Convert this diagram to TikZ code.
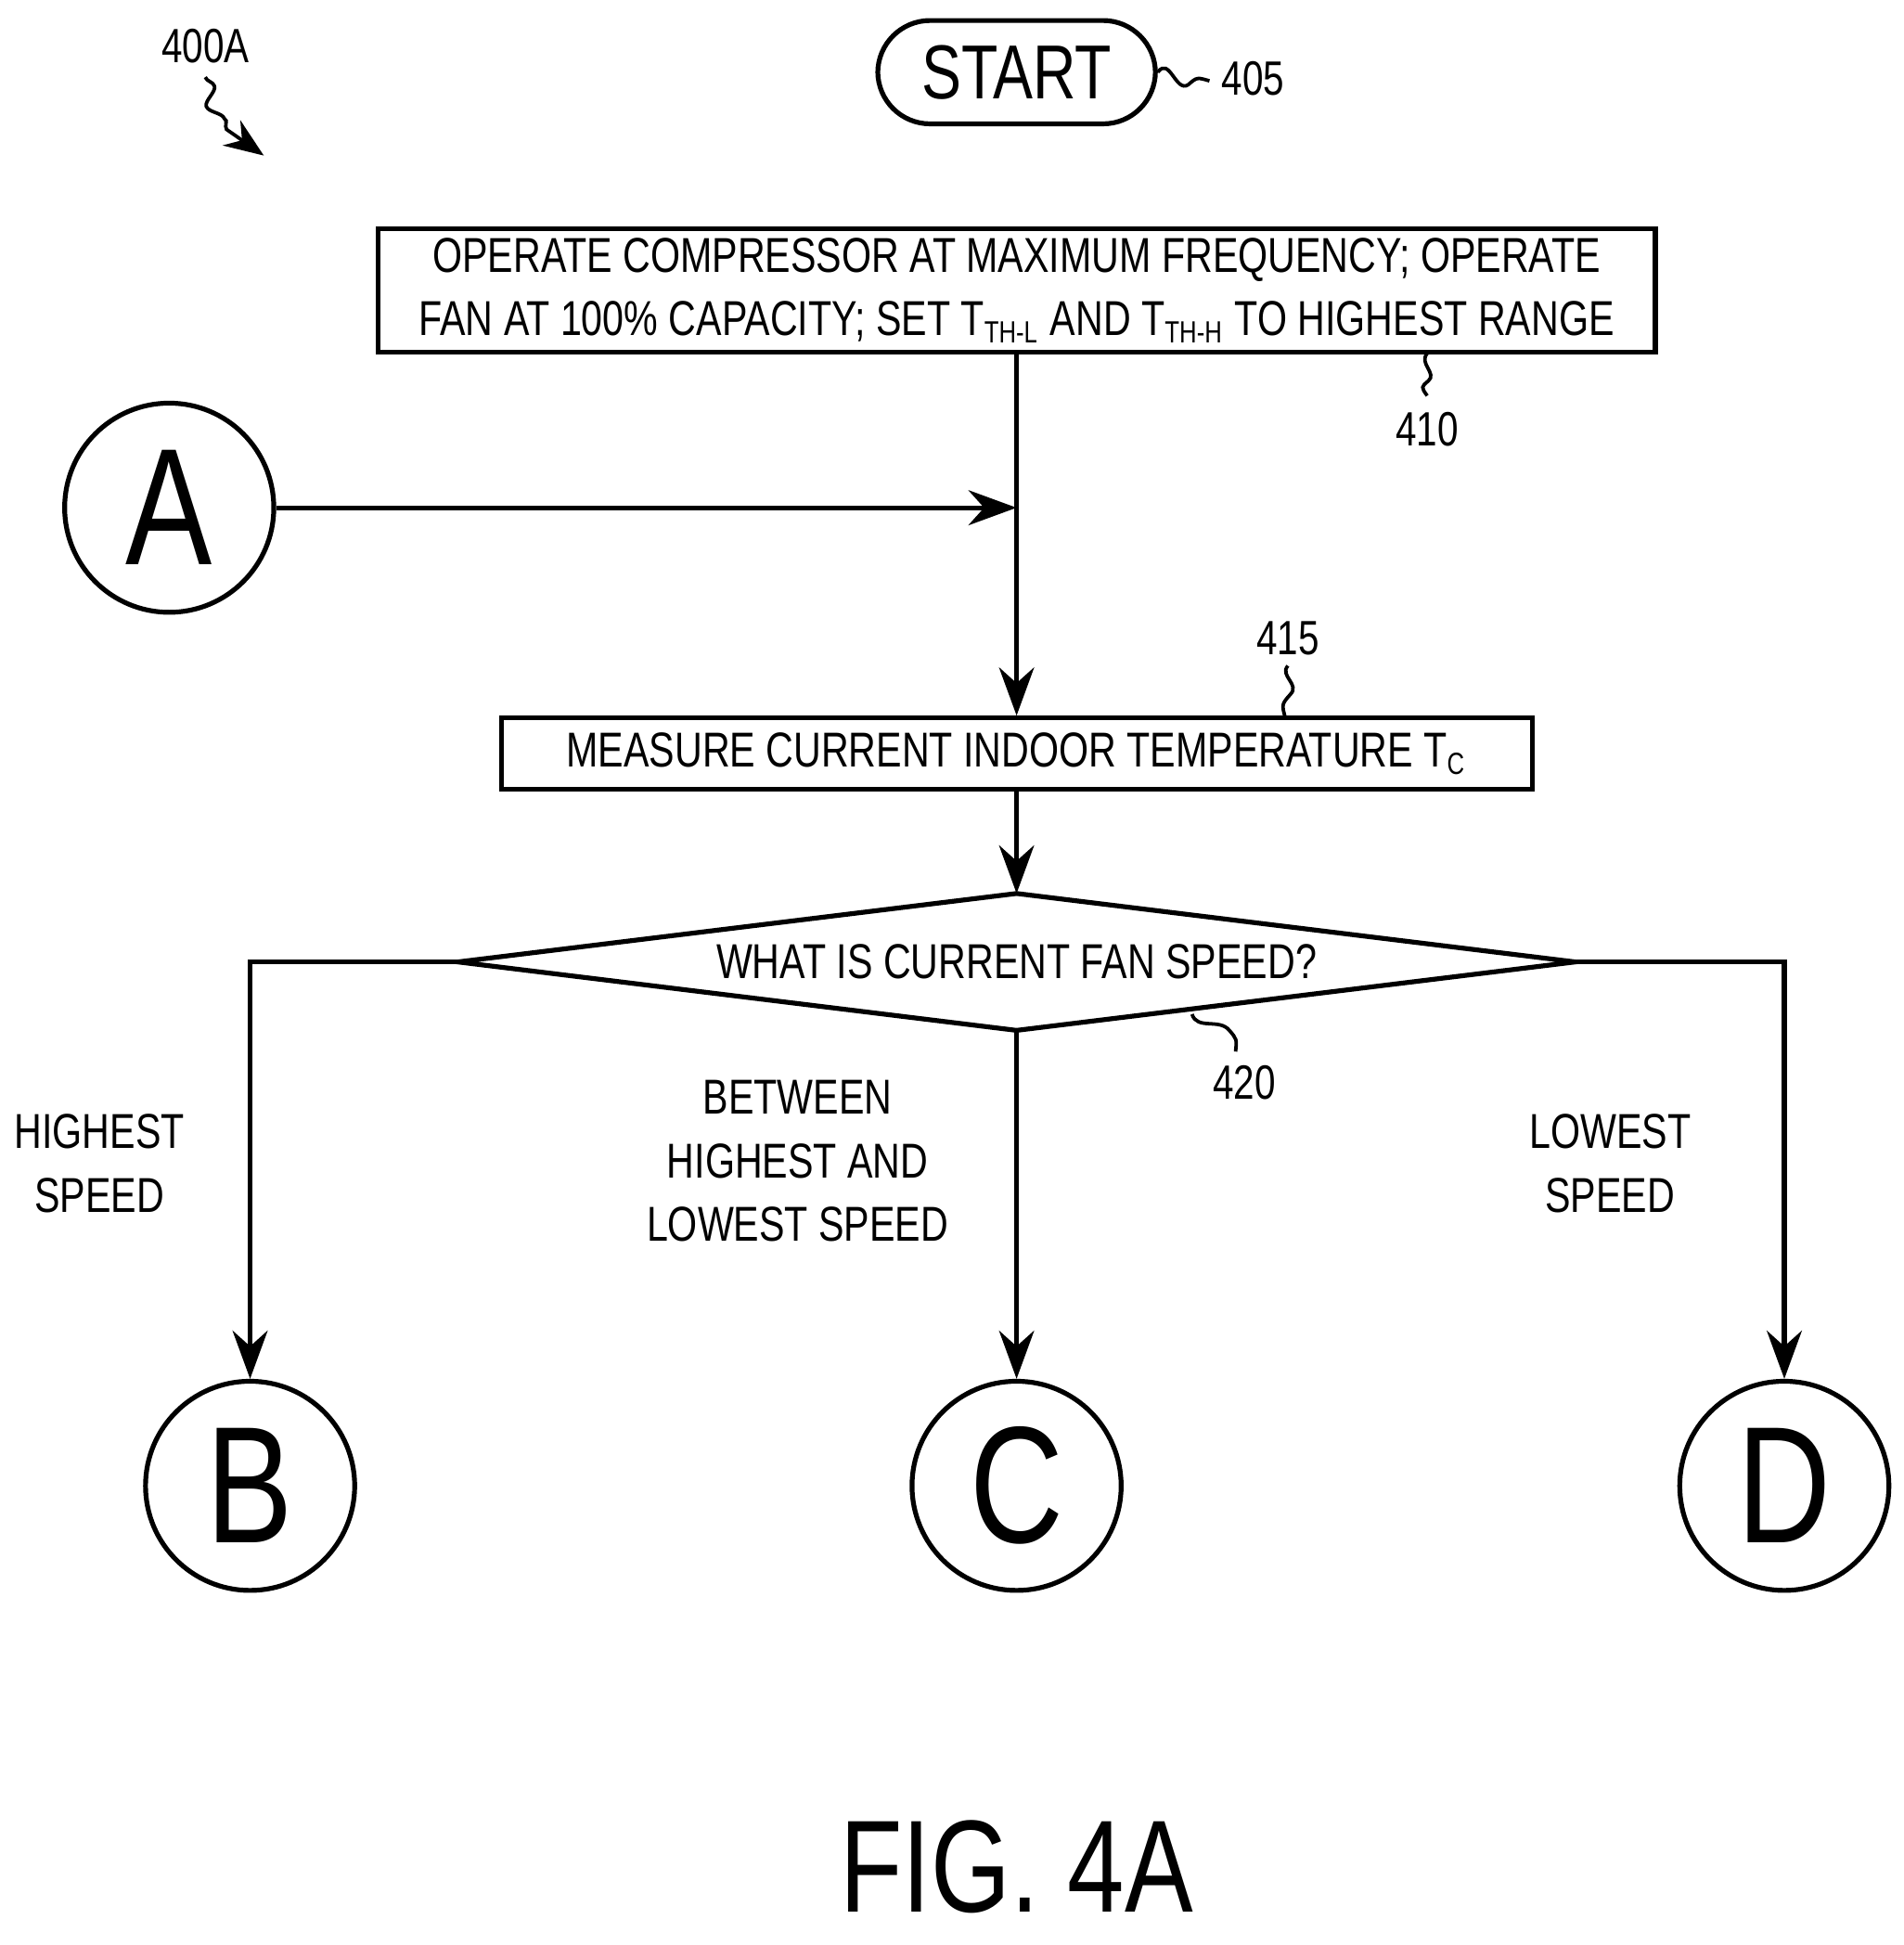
\documentclass[tikz,border=0pt]{standalone}
\usepackage{fontspec}
\setmainfont{Liberation Sans}[FakeStretch=0.78]
\usetikzlibrary{arrows.meta,decorations.pathmorphing}
\begin{document}
\begin{tikzpicture}[x=0.01cm,y=-0.01cm,line width=1.1pt,
  box/.style={draw,inner sep=0},
  conn/.style={circle,draw,minimum size=1.68cm,inner sep=0,font=\fontsize{38}{40}\selectfont},
  arr/.style={-{Stealth[length=11pt,width=8pt]}},
  sq/.style={line width=0.8pt},
  lbl/.style={font=\fontsize{11}{13}\selectfont,align=center},
  txt/.style={font=\fontsize{11.2}{14.5}\selectfont,align=center}]
\useasboundingbox (0,0) rectangle (1530,1563);
\node[draw,rounded corners=0.42cm,minimum width=2.23cm,minimum height=0.83cm,font=\fontsize{17.5}{20}\selectfont] (start) at (817,58) {START};
\node[lbl] (l405) at (1007,63) {405};
\draw[sq] (start.east) .. controls (940,45) and (945,75) .. (955,68) .. controls (962,62) .. (972,65);
\node[box,minimum width=10.26cm,minimum height=0.99cm,txt] (b410) at (817,233.5) {OPERATE COMPRESSOR AT MAXIMUM FREQUENCY; OPERATE\\FAN AT 100\% CAPACITY; SET T\textsubscript{\scriptsize TH-L} AND T\textsubscript{\scriptsize TH-H} TO HIGHEST RANGE};
\node[lbl] (l410) at (1147,345) {410};
\draw[sq] (1147,284) .. controls (1140,292) and (1155,300) .. (1148,306) .. controls (1142,311) .. (1147,318);
\node[conn] (A) at (136,408) {A};
\coordinate (j) at (817,408);
\draw[arr] (A) -- (j);
\node[box,minimum width=8.28cm,minimum height=0.57cm,txt] (b415) at (817,605.5) {MEASURE CURRENT INDOOR TEMPERATURE T\textsubscript{\scriptsize C}};
\node[lbl] (l415) at (1035,513) {415};
\draw[sq] (1035,535) .. controls (1028,543) and (1045,550) .. (1037,558) .. controls (1030,566) .. (1033,577);
\draw[arr] (b410) -- (b415);
\coordinate (dt) at (817,718); \coordinate (dl) at (368,773);
\coordinate (dr) at (1266,773); \coordinate (db) at (817,828);
\draw (dt) -- (dr) -- (db) -- (dl) -- cycle;
\node[txt] (dtext) at (817,773) {WHAT IS CURRENT FAN SPEED?};
\draw[arr] (b415) -- (dt);
\node[lbl] (l420) at (1000,870) {420};
\draw[sq] (958,815) .. controls (962,828) and (980,818) .. (988,828) .. controls (994,835) .. (993,845);
\node[conn] (B) at (201,1194) {B};
\node[conn] (C) at (817,1194) {C};
\node[conn] (D) at (1434,1194) {D};
\draw[arr] (dl) -| (B);
\draw[arr] (db) -- (C);
\draw[arr] (dr) -| (D);
\node[txt] (tB) at (80,935) {HIGHEST\\SPEED};
\node[txt] (tC) at (641,933) {BETWEEN\\HIGHEST AND\\LOWEST SPEED};
\node[txt] (tD) at (1294,935) {LOWEST\\SPEED};
\node[font=\fontsize{30}{32}\selectfont] (fig) at (817,1500) {FIG. 4A};
\node[lbl] (l400) at (165,37) {400A};
\coordinate (ae) at (212,125);
\draw[sq,decorate,decoration={snake,amplitude=1.5pt,segment length=8pt,post length=8pt},-{Stealth[length=9pt,width=7pt]}] (165,62) .. controls (175,100) .. (ae);
\end{tikzpicture}
\end{document}
